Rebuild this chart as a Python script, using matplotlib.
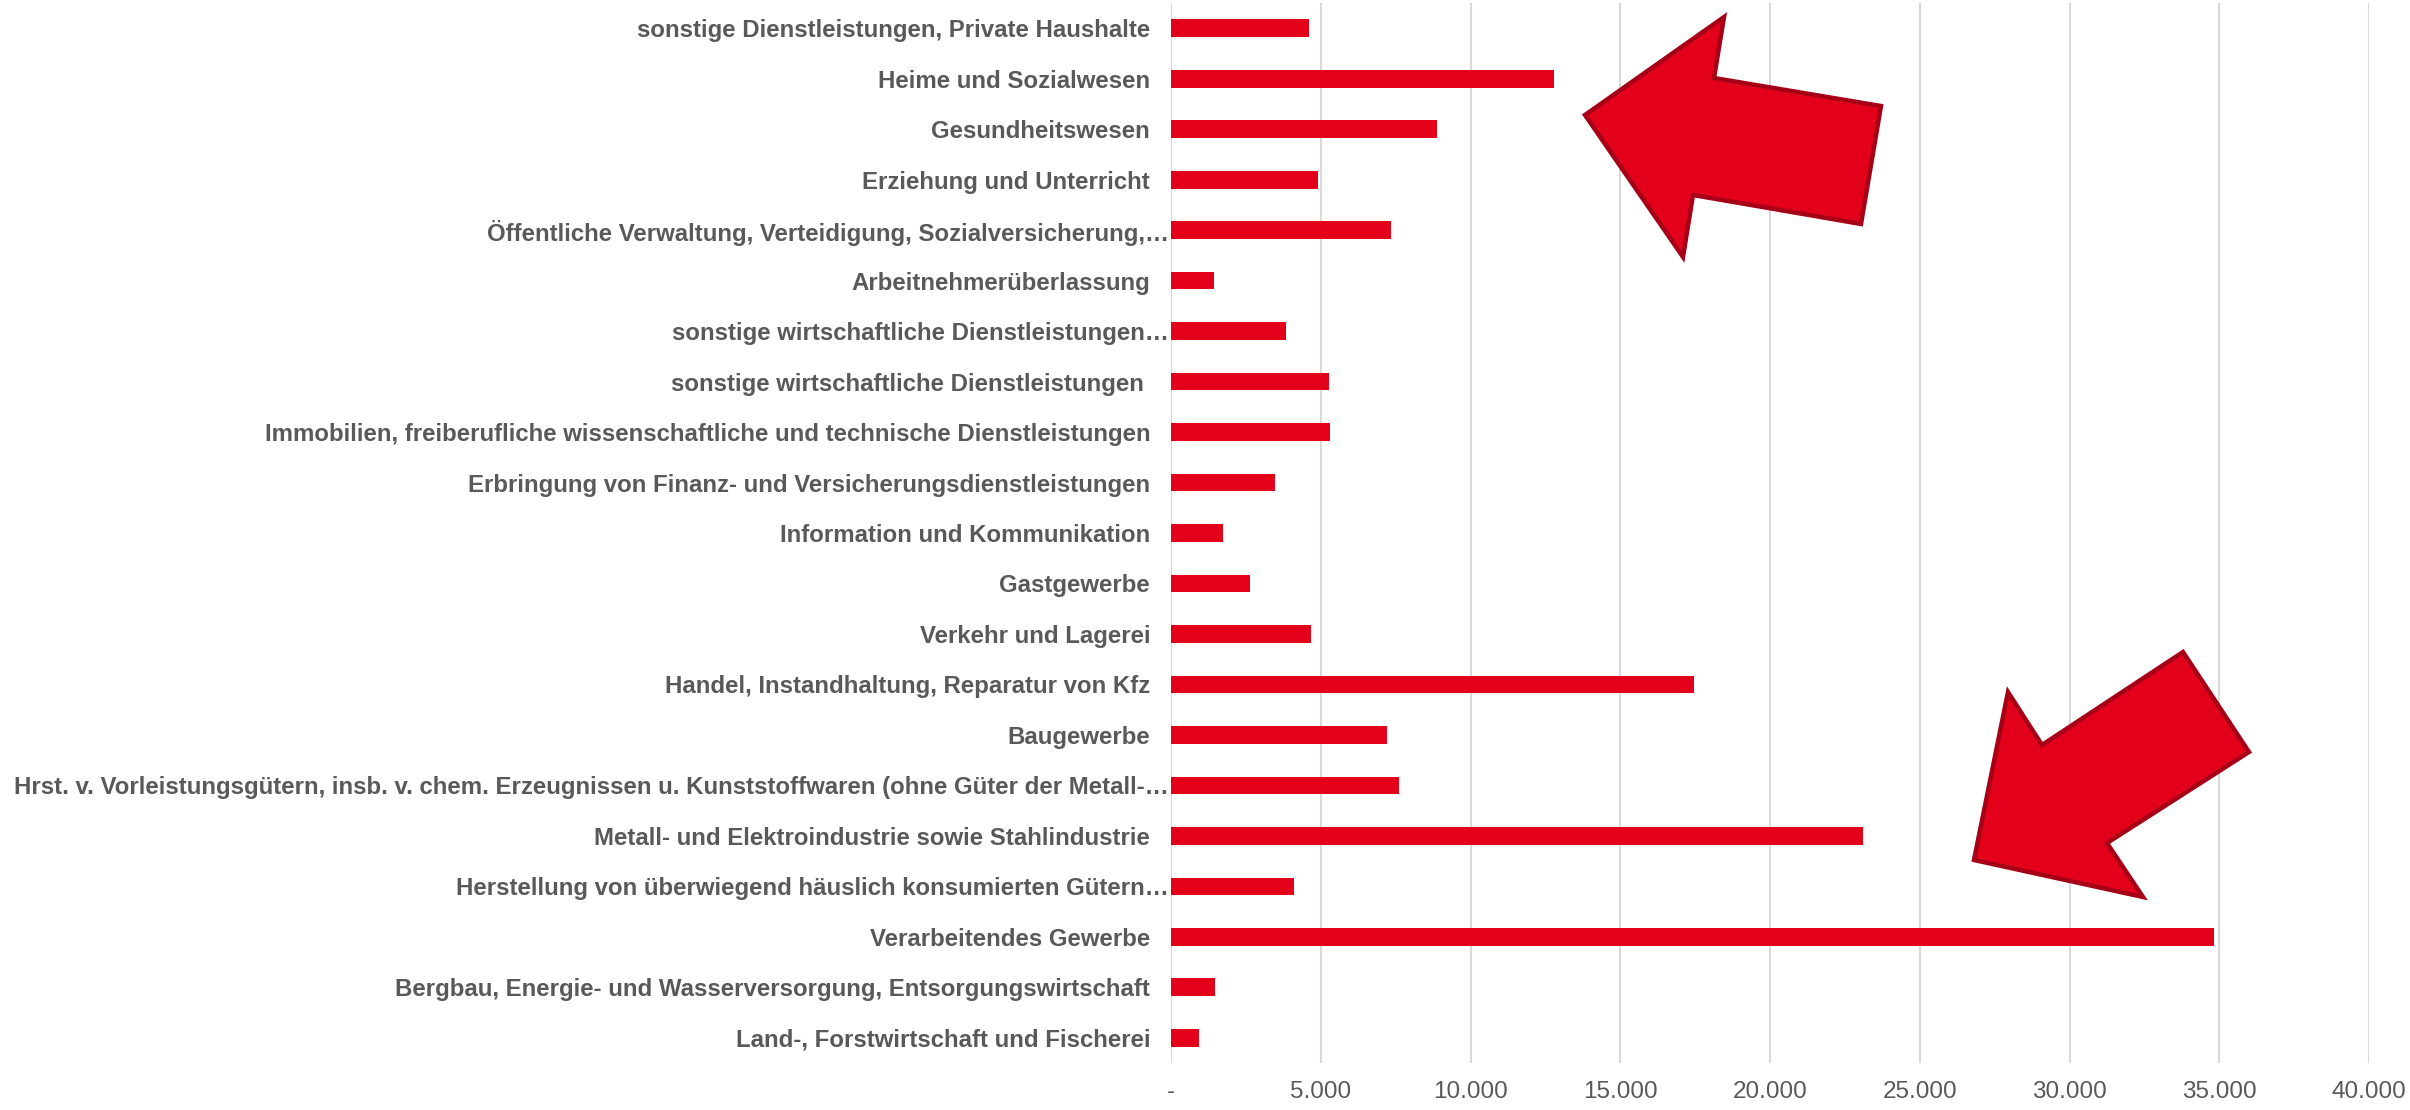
import matplotlib.pyplot as plt
from matplotlib.patches import Polygon
from matplotlib.transforms import ScaledTranslation

# branches, bottom to top as drawn
branchen = [
    "Land-, Forstwirtschaft und Fischerei",
    "Bergbau, Energie- und Wasserversorgung, Entsorgungswirtschaft",
    "Verarbeitendes Gewerbe",
    "Herstellung von überwiegend häuslich konsumierten Gütern…",
    "Metall- und Elektroindustrie sowie Stahlindustrie",
    "Hrst. v. Vorleistungsgütern, insb. v. chem. Erzeugnissen u. Kunststoffwaren (ohne Güter der Metall-…",
    "Baugewerbe",
    "Handel, Instandhaltung, Reparatur von Kfz",
    "Verkehr und Lagerei",
    "Gastgewerbe",
    "Information und Kommunikation",
    "Erbringung von Finanz- und Versicherungsdienstleistungen",
    "Immobilien, freiberufliche wissenschaftliche und technische Dienstleistungen",
    "sonstige wirtschaftliche Dienstleistungen ",
    "sonstige wirtschaftliche Dienstleistungen…",
    "Arbeitnehmerüberlassung",
    "Öffentliche Verwaltung, Verteidigung, Sozialversicherung,…",
    "Erziehung und Unterricht",
    "Gesundheitswesen",
    "Heime und Sozialwesen",
    "sonstige Dienstleistungen, Private Haushalte",
]
werte = [940, 1475, 34820, 4100, 23100, 7620, 7220, 17460, 4690, 2640,
         1725, 3460, 5310, 5280, 3850, 1450, 7340, 4920, 8880, 12780, 4615]

x_ticks = [0, 5000, 10000, 15000, 20000, 25000, 30000, 35000, 40000]
x_labels = ["-", "5.000", "10.000", "15.000", "20.000", "25.000", "30.000", "35.000", "40.000"]

rot = "#e2001a"
rand = "#a50016"
grau = "#595959"

plt.rcParams['font.family'] = ['Liberation Sans', 'DejaVu Sans']

fig = plt.figure(figsize=(24.1, 11.1), dpi=100)
ax = fig.add_axes([1171 / 2410, 1 - 1063 / 1110, 1198 / 2410, 1060 / 1110])

pos = list(range(len(branchen)))
ax.barh(pos, werte, height=0.35, color=rot, zorder=3)

ax.set_xlim(0, 40000)
ax.set_ylim(-0.5, len(branchen) - 0.5)
ax.set_xticks(x_ticks)
ax.set_xticklabels(x_labels, fontsize=17.5, color=grau)
ax.set_yticks(pos)
ax.set_yticklabels(branchen, fontsize=17.3, color=grau, fontweight="bold")
ax.tick_params(axis="x", length=0, pad=13)
ax.tick_params(axis="y", length=0, pad=15)
ax.grid(axis="x", color="#d9d9d9", linewidth=1.5, zorder=0)
for s in ax.spines.values():
    s.set_visible(False)

# truncated labels run right up to the axis
for lab in ax.get_yticklabels():
    if lab.get_text().endswith("…"):
        lab.set_transform(lab.get_transform() + ScaledTranslation(0.19, 0, fig.dpi_scale_trans))

# the two block arrows (pixel positions on the figure)
pfeil_1 = [(1585, 115), (1724, 17), (1714, 78), (1881, 106),
           (1861, 224), (1693, 195), (1683, 257)]
pfeil_2 = [(1974, 860), (2008, 692), (2042, 745), (2183, 652),
           (2249, 752), (2107, 843), (2143, 897)]
for p in (pfeil_1, pfeil_2):
    pts = [(x / 2410, 1 - y / 1110) for x, y in p]
    fig.patches.append(Polygon(pts, closed=True, facecolor=rot, edgecolor=rand,
                               linewidth=3.2, joinstyle="miter",
                               transform=fig.transFigure, zorder=5))

fig.savefig("out.png", dpi=100)
